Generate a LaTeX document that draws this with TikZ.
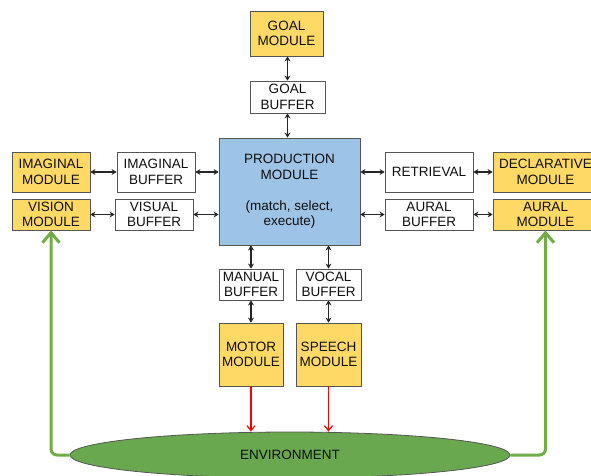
\documentclass[tikz,border=0pt]{standalone}
\usepackage{fontspec}
\setmainfont{Liberation Sans}
\usetikzlibrary{arrows.meta,shapes.geometric}
\definecolor{modfill}{RGB}{255,217,102}
\definecolor{prodfill}{RGB}{157,195,230}
\definecolor{envfill}{RGB}{106,168,79}
\definecolor{grn}{RGB}{112,173,71}
\definecolor{bord}{RGB}{85,85,85}
\definecolor{txt}{RGB}{15,15,15}
\begin{document}
\begin{tikzpicture}[x=1pt,y=-1pt,
  font=\fontsize{13.5}{15.5}\selectfont, text=txt,
  box/.style={draw=bord, line width=0.8pt, align=center, inner sep=0pt, anchor=center},
  modbox/.style={box, fill=modfill},
  bufbox/.style={box, fill=white},
  prodbox/.style={box, fill=prodfill},
  dbl/.style={{Stealth[length=5pt,width=6pt]}-{Stealth[length=5pt,width=6pt]}, line width=1.3pt, draw=black!85},
  redarr/.style={-{Straight Barb[length=5pt,width=8pt]}, line width=1.2pt, draw=red},
  grnarr/.style={-{Straight Barb[length=10pt,width=17pt]}, line width=3pt, draw=grn, rounded corners=6pt}
]
\useasboundingbox (0,0) rectangle (591,475);
\clip (0,0) rectangle (591,475);

% goal
\node[modbox, minimum width=73pt, minimum height=45pt] (goalm) at (286.5,33.5) {GOAL\\MODULE};
\node[bufbox, minimum width=75pt, minimum height=32pt] (goalb) at (287.5,97) {GOAL\\BUFFER};

% production
\node[prodbox, minimum width=141pt, minimum height=107pt] (prod) at (289.5,191.5) {PRODUCTION\\MODULE\\[15.5pt](match, select,\\execute)};

% left
\node[modbox, minimum width=78pt, minimum height=40pt] (imagm) at (51,172) {IMAGINAL\\MODULE};
\node[bufbox, minimum width=78pt, minimum height=40pt] (imagb) at (156,172) {IMAGINAL\\BUFFER};
\node[modbox, minimum width=78pt, minimum height=31pt] (vism) at (51,214.5) {VISION\\MODULE};
\node[bufbox, minimum width=78pt, minimum height=31pt] (visb) at (154,214.5) {VISUAL\\BUFFER};

% right
\node[bufbox, minimum width=88pt, minimum height=40pt] (retr) at (429,172) {RETRIEVAL};
\node[modbox, minimum width=105pt, minimum height=40pt] (declm) at (545.5,172) {DECLARATIVE\\MODULE};
\node[bufbox, minimum width=88pt, minimum height=31pt] (aurb) at (429,214.5) {AURAL\\BUFFER};
\node[modbox, minimum width=105pt, minimum height=31pt] (aurm) at (545.5,214.5) {AURAL\\MODULE};

% bottom
\node[bufbox, minimum width=64pt, minimum height=31pt] (manb) at (251,284.5) {MANUAL\\BUFFER};
\node[bufbox, minimum width=65pt, minimum height=31pt] (vocb) at (328.5,284.5) {VOCAL\\BUFFER};
\node[modbox, minimum width=64pt, minimum height=63pt] (motm) at (251,354.5) {MOTOR\\MODULE};
\node[modbox, minimum width=65pt, minimum height=63pt] (spm) at (328.5,354.5) {SPEECH\\MODULE};

% environment
\node[draw=bord, line width=0.8pt, fill=envfill, ellipse, minimum width=440pt, minimum height=46pt, inner sep=0pt] (env) at (290,455) {ENVIRONMENT};

% black double arrows
\draw[dbl] (goalm.south -| goalb) -- (goalb.north);
\draw[dbl] (goalb.south) -- (goalb.south |- prod.north);
\draw[dbl] (imagm.east) -- (imagb.west);
\draw[dbl] (imagb.east) -- (imagb.east -| prod.west);
\draw[dbl] (vism.east) -- (visb.west);
\draw[dbl] (visb.east) -- (visb.east -| prod.west);
\draw[dbl] (prod.east |- retr.west) -- (retr.west);
\draw[dbl] (retr.east) -- (declm.west);
\draw[dbl] (prod.east |- aurb.west) -- (aurb.west);
\draw[dbl] (aurb.east) -- (aurm.west);
\draw[dbl] (prod.south -| manb) -- (manb.north);
\draw[dbl] (prod.south -| vocb) -- (vocb.north);
\draw[dbl] (manb.south) -- (motm.north);
\draw[dbl] (vocb.south) -- (spm.north);

% red arrows
\draw[redarr] (motm.south) -- (motm.south |- env.north);
\draw[redarr] (spm.south) -- (spm.south |- env.north);

% green arrows
\draw[grnarr] (env.west) -- (vism.south |- env.west) -- (vism.south);
\draw[grnarr] (env.east) -- (aurm.south |- env.east) -- (aurm.south);
\end{tikzpicture}
\end{document}
